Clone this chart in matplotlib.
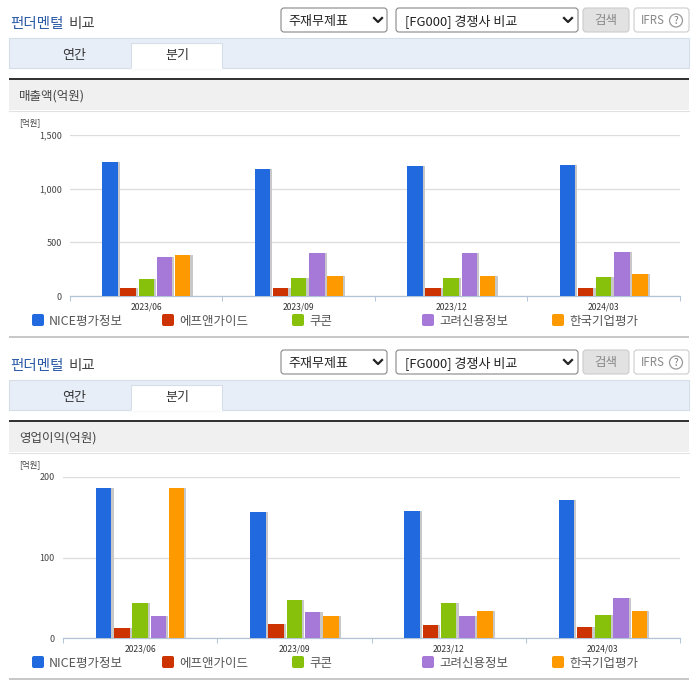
import matplotlib
matplotlib.use("Agg")
import matplotlib.pyplot as plt
import matplotlib.patheffects as pe
from matplotlib.patches import Rectangle, FancyBboxPatch, Circle
from matplotlib.ticker import FuncFormatter

plt.rcParams['font.family'] = ['Noto Sans CJK KR', 'DejaVu Sans']

quarters = ['2023/06', '2023/09', '2023/12', '2024/03']
companies = ['NICE평가정보', '에프앤가이드', '쿠콘', '고려신용정보', '한국기업평가']
colors = ['#2169de', '#cc3300', '#88c10b', '#a678d8', '#ff9900']

sales_nice = [1253, 1187, 1215, 1222]
sales_fnguide = [72, 72, 72, 72]
sales_coocon = [154, 167, 167, 176]
sales_koryo = [365, 403, 403, 412]
sales_kr = [380, 182, 182, 201]

profit_nice = [186, 157, 158, 172]
profit_fnguide = [13, 18, 16, 14]
profit_coocon = [43, 47, 44, 29]
profit_koryo = [27, 32, 27, 50]
profit_kr = [186, 27, 33, 34]

W, H = 696, 684
fig = plt.figure(figsize=(W / 100, H / 100), dpi=100, facecolor='white')

# 화면 요소는 픽셀 좌표로 그림
ui = fig.add_axes([0, 0, 1, 1])
ui.set_xlim(0, W)
ui.set_ylim(H, 0)
ui.axis('off')


def px(v):
    return v * 0.72


def round_box(x0, y0, x1, y1, face, edge):
    ui.add_patch(FancyBboxPatch((x0 + 2, y0 + 2), x1 - x0 - 4, y1 - y0 - 4,
                                boxstyle='round,pad=2,rounding_size=3',
                                fc=face, ec=edge, lw=0.8))


def chevron(x, y):
    ui.plot([x - 4, x, x + 4], [y - 2, y + 2, y - 2], color='#222222', lw=1.6)


def draw_header(dy, section_title):
    ui.text(10, 24 + dy, '펀더멘털', color='#2b5aa6', fontsize=px(14.5), fontweight='medium', va='center')
    ui.text(69, 24 + dy, '비교', color='#444444', fontsize=px(14.5), fontweight='medium', va='center')

    round_box(281, 8 + dy, 387, 32 + dy, 'white', '#888888')
    ui.text(288, 21 + dy, '주재무제표', color='#222222', fontsize=px(13), va='center')
    chevron(378, 20 + dy)
    round_box(396, 8 + dy, 578, 32 + dy, 'white', '#888888')
    ui.text(405, 21 + dy, '[FG000] 경쟁사 비교', color='#222222', fontsize=px(13), va='center')
    chevron(568, 20 + dy)
    round_box(583, 8 + dy, 629, 32 + dy, '#e2e2e2', '#cccccc')
    ui.text(606, 20.5 + dy, '검색', color='#888888', fontsize=px(12.5), va='center', ha='center')
    round_box(634, 8 + dy, 689, 32 + dy, 'white', '#cccccc')
    ui.text(641, 20 + dy, 'IFRS', color='#888888', fontsize=px(11.5), va='center')
    ui.add_patch(Circle((676, 20.5 + dy), 6.5, fc='white', ec='#999999', lw=0.9))
    ui.text(676, 20.5 + dy, '?', color='#777777', fontsize=px(10), va='center', ha='center')

    ui.add_patch(Rectangle((9, 38 + dy), 680, 30, fc='#e8eef8', ec='#d5dde8', lw=0.8))
    ui.add_patch(Rectangle((131, 43 + dy), 91, 25.5, fc='white', ec='#d5dde8', lw=0.8))
    ui.plot([131.5, 221.5], [68.5 + dy, 68.5 + dy], color='white', lw=1.2)
    ui.text(74, 55 + dy, '연간', color='#333333', fontsize=px(13), va='center', ha='center')
    ui.text(177, 56 + dy, '분기', color='#333333', fontsize=px(13), va='center', ha='center')

    ui.add_patch(Rectangle((9, 80 + dy), 680, 30, fc='#f0f0f0', ec='none'))
    ui.add_patch(Rectangle((9, 78 + dy), 680, 2, fc='#333333', ec='none'))
    ui.plot([9, 689], [110.5 + dy, 110.5 + dy], color='#e2e2e2', lw=0.8)
    ui.text(19, 96 + dy, section_title, color='#444444', fontsize=px(12.5), va='center')
    ui.text(19, 123 + dy, '[억원]', color='#444444', fontsize=px(8.5), va='center')

    legend_x = [32, 162, 292, 422, 552]
    for x, name, c in zip(legend_x, companies, colors):
        ui.add_patch(FancyBboxPatch((x + 1, 315 + dy), 10, 10, boxstyle='round,pad=1,rounding_size=2',
                                    fc=c, ec='none'))
        ui.text(x + 17, 321 + dy, name, color='#555555', fontsize=px(12.5), va='center')
    ui.add_patch(Rectangle((9, 335.5 + dy), 680, 2.2, fc='#c8c8c8', ec='none'))


def draw_chart(left, right, top, bottom, ymax, yticks, series):
    ax = fig.add_axes([left / W, 1 - bottom / H, (right - left) / W, (bottom - top) / H])
    ax.patch.set_alpha(0)
    ax.set_xlim(0, len(quarters))
    ax.set_ylim(0, ymax)

    cat_w = (right - left) / len(quarters)
    step = 18.2 / cat_w
    width = 15.5 / cat_w
    shadow = [pe.SimplePatchShadow(offset=(1.6, 0), shadow_rgbFace='#c8c8c8', alpha=1), pe.Normal()]
    for k, (vals, c) in enumerate(zip(series, colors)):
        xs = [i + 0.5 + (k - 2) * step for i in range(len(vals))]
        bars = ax.bar(xs, vals, width=width, color=c, zorder=3)
        for b in bars:
            b.set_path_effects(shadow)

    for s in ['top', 'right', 'left']:
        ax.spines[s].set_visible(False)
    ax.spines['bottom'].set_color('#b4c4d8')
    ax.spines['bottom'].set_linewidth(0.9)

    ax.set_yticks(yticks)
    ax.yaxis.set_major_formatter(FuncFormatter(lambda v, p: f'{int(v):,}'))
    ax.grid(axis='y', color='#dddddd', lw=0.9, zorder=0)
    ax.tick_params(axis='y', length=0, pad=6, labelsize=px(9), labelcolor='#444444')

    ax.set_xticks([i + 0.5 for i in range(len(quarters))])
    ax.set_xticklabels(quarters)
    ax.set_xticks(range(len(quarters) + 1), minor=True)
    ax.tick_params(axis='x', which='major', length=0, pad=5, labelsize=px(8.5), labelcolor='#333333')
    ax.tick_params(axis='x', which='minor', length=3.5, width=0.7, color='#b4c4d8')
    return ax


draw_header(0, '매출액(억원)')
draw_header(342, '영업이익(억원)')

draw_chart(70, 680, 135, 296, 1500, [0, 500, 1000, 1500],
           [sales_nice, sales_fnguide, sales_coocon, sales_koryo, sales_kr])
draw_chart(63, 680, 477, 638, 200, [0, 100, 200],
           [profit_nice, profit_fnguide, profit_coocon, profit_koryo, profit_kr])

fig.savefig('out.png', dpi=100)
